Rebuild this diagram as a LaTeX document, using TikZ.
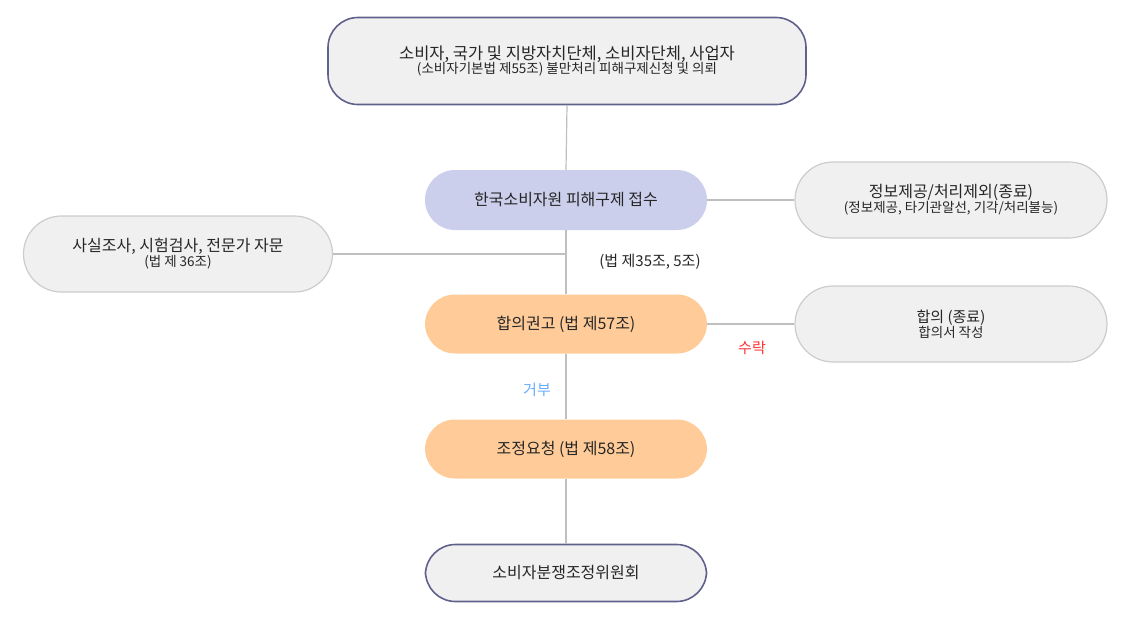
\documentclass[tikz,border=0pt]{standalone}
\usepackage{fontspec}
\setmainfont{Noto Sans CJK KR}
\begin{document}
\begin{tikzpicture}[x=1pt,y=-1pt,
 box/.style={rounded corners=#1,align=center,inner sep=0pt,text=black!85},
 dark/.style={box=30pt,draw=black!30!blue!25!gray,line width=1.6pt,fill=black!6},
 light/.style={box=38pt,draw=black!20,line width=1.2pt,fill=black!6},
 pill/.style={box=30pt,draw=none},
 ln/.style={draw=black!25,line width=1.2pt},
 big/.style={font=\fontsize{16}{20}\selectfont},
 sm/.style={font=\fontsize{13.5}{18}\selectfont}]
\useasboundingbox (0,0) rectangle (1122,621);
\node[dark,minimum width=478pt,minimum height=87pt] (top) at (567,61)
 {{\fontsize{16.5}{22}\selectfont 소비자, 국가 및 지방자치단체, 소비자단체, 사업자}\\[-1pt]{\fontsize{13.5}{18}\selectfont (소비자기본법 제55조) 불만처리 피해구제신청 및 의뢰}};
\node[dark,minimum width=281pt,minimum height=57pt] (bot) at (566,573) {\fontsize{16}{20}\selectfont 소비자분쟁조정위원회};
\node[pill,fill=cyan!30!blue!20!white,minimum width=282pt,minimum height=60pt] (rec) at (566,200) {\fontsize{16}{20}\selectfont 한국소비자원 피해구제 접수};
\node[pill,fill=orange!40!white,minimum width=282pt,minimum height=59pt] (agr) at (566,324) {\fontsize{16}{20}\selectfont 합의권고 (법 제57조)};
\node[pill,fill=orange!40!white,minimum width=282pt,minimum height=59pt] (med) at (566,449) {\fontsize{16}{20}\selectfont 조정요청 (법 제58조)};
\node[light,minimum width=312pt,minimum height=76pt] (r1) at (951,200)
 {{\fontsize{16}{20}\selectfont 정보제공/처리제외(종료)}\\{\fontsize{13.5}{18}\selectfont (정보제공, 타기관알선, 기각/처리불능)}};
\node[light,minimum width=312pt,minimum height=76pt] (r2) at (951,324)
 {{\fontsize{15}{20}\selectfont 합의 (종료)}\\{\fontsize{13.5}{18}\selectfont 합의서 작성}};
\node[light,minimum width=309pt,minimum height=76pt] (l1) at (178,254)
 {{\fontsize{16}{20}\selectfont 사실조사, 시험검사, 전문가 자문}\\{\fontsize{13.5}{18}\selectfont (법 제 36조)}};
\begin{scope}[on background layer/.style={}]
\draw[ln] (top.south) -- (rec.north);
\draw[ln] (rec.south) -- (agr.north);
\draw[ln] (agr.south) -- (med.north);
\draw[ln] (med.south) -- (bot.north);
\draw[ln] (rec.east) -- (r1.west);
\draw[ln] (agr.east) -- (r2.west);
\coordinate (j) at (567,254);
\draw[ln] (l1.east) -- (j);
\end{scope}
\node[font=\fontsize{15}{18}\selectfont,text=black!85] (lab1) at (650,262) {(법 제35조, 5조)};
\node[font=\fontsize{15}{18}\selectfont,text=red!80] (lab2) at (752,348) {수락};
\node[font=\fontsize{15}{18}\selectfont,text=blue!55!cyan!60] (lab3) at (537,390) {거부};
\end{tikzpicture}
\end{document}
